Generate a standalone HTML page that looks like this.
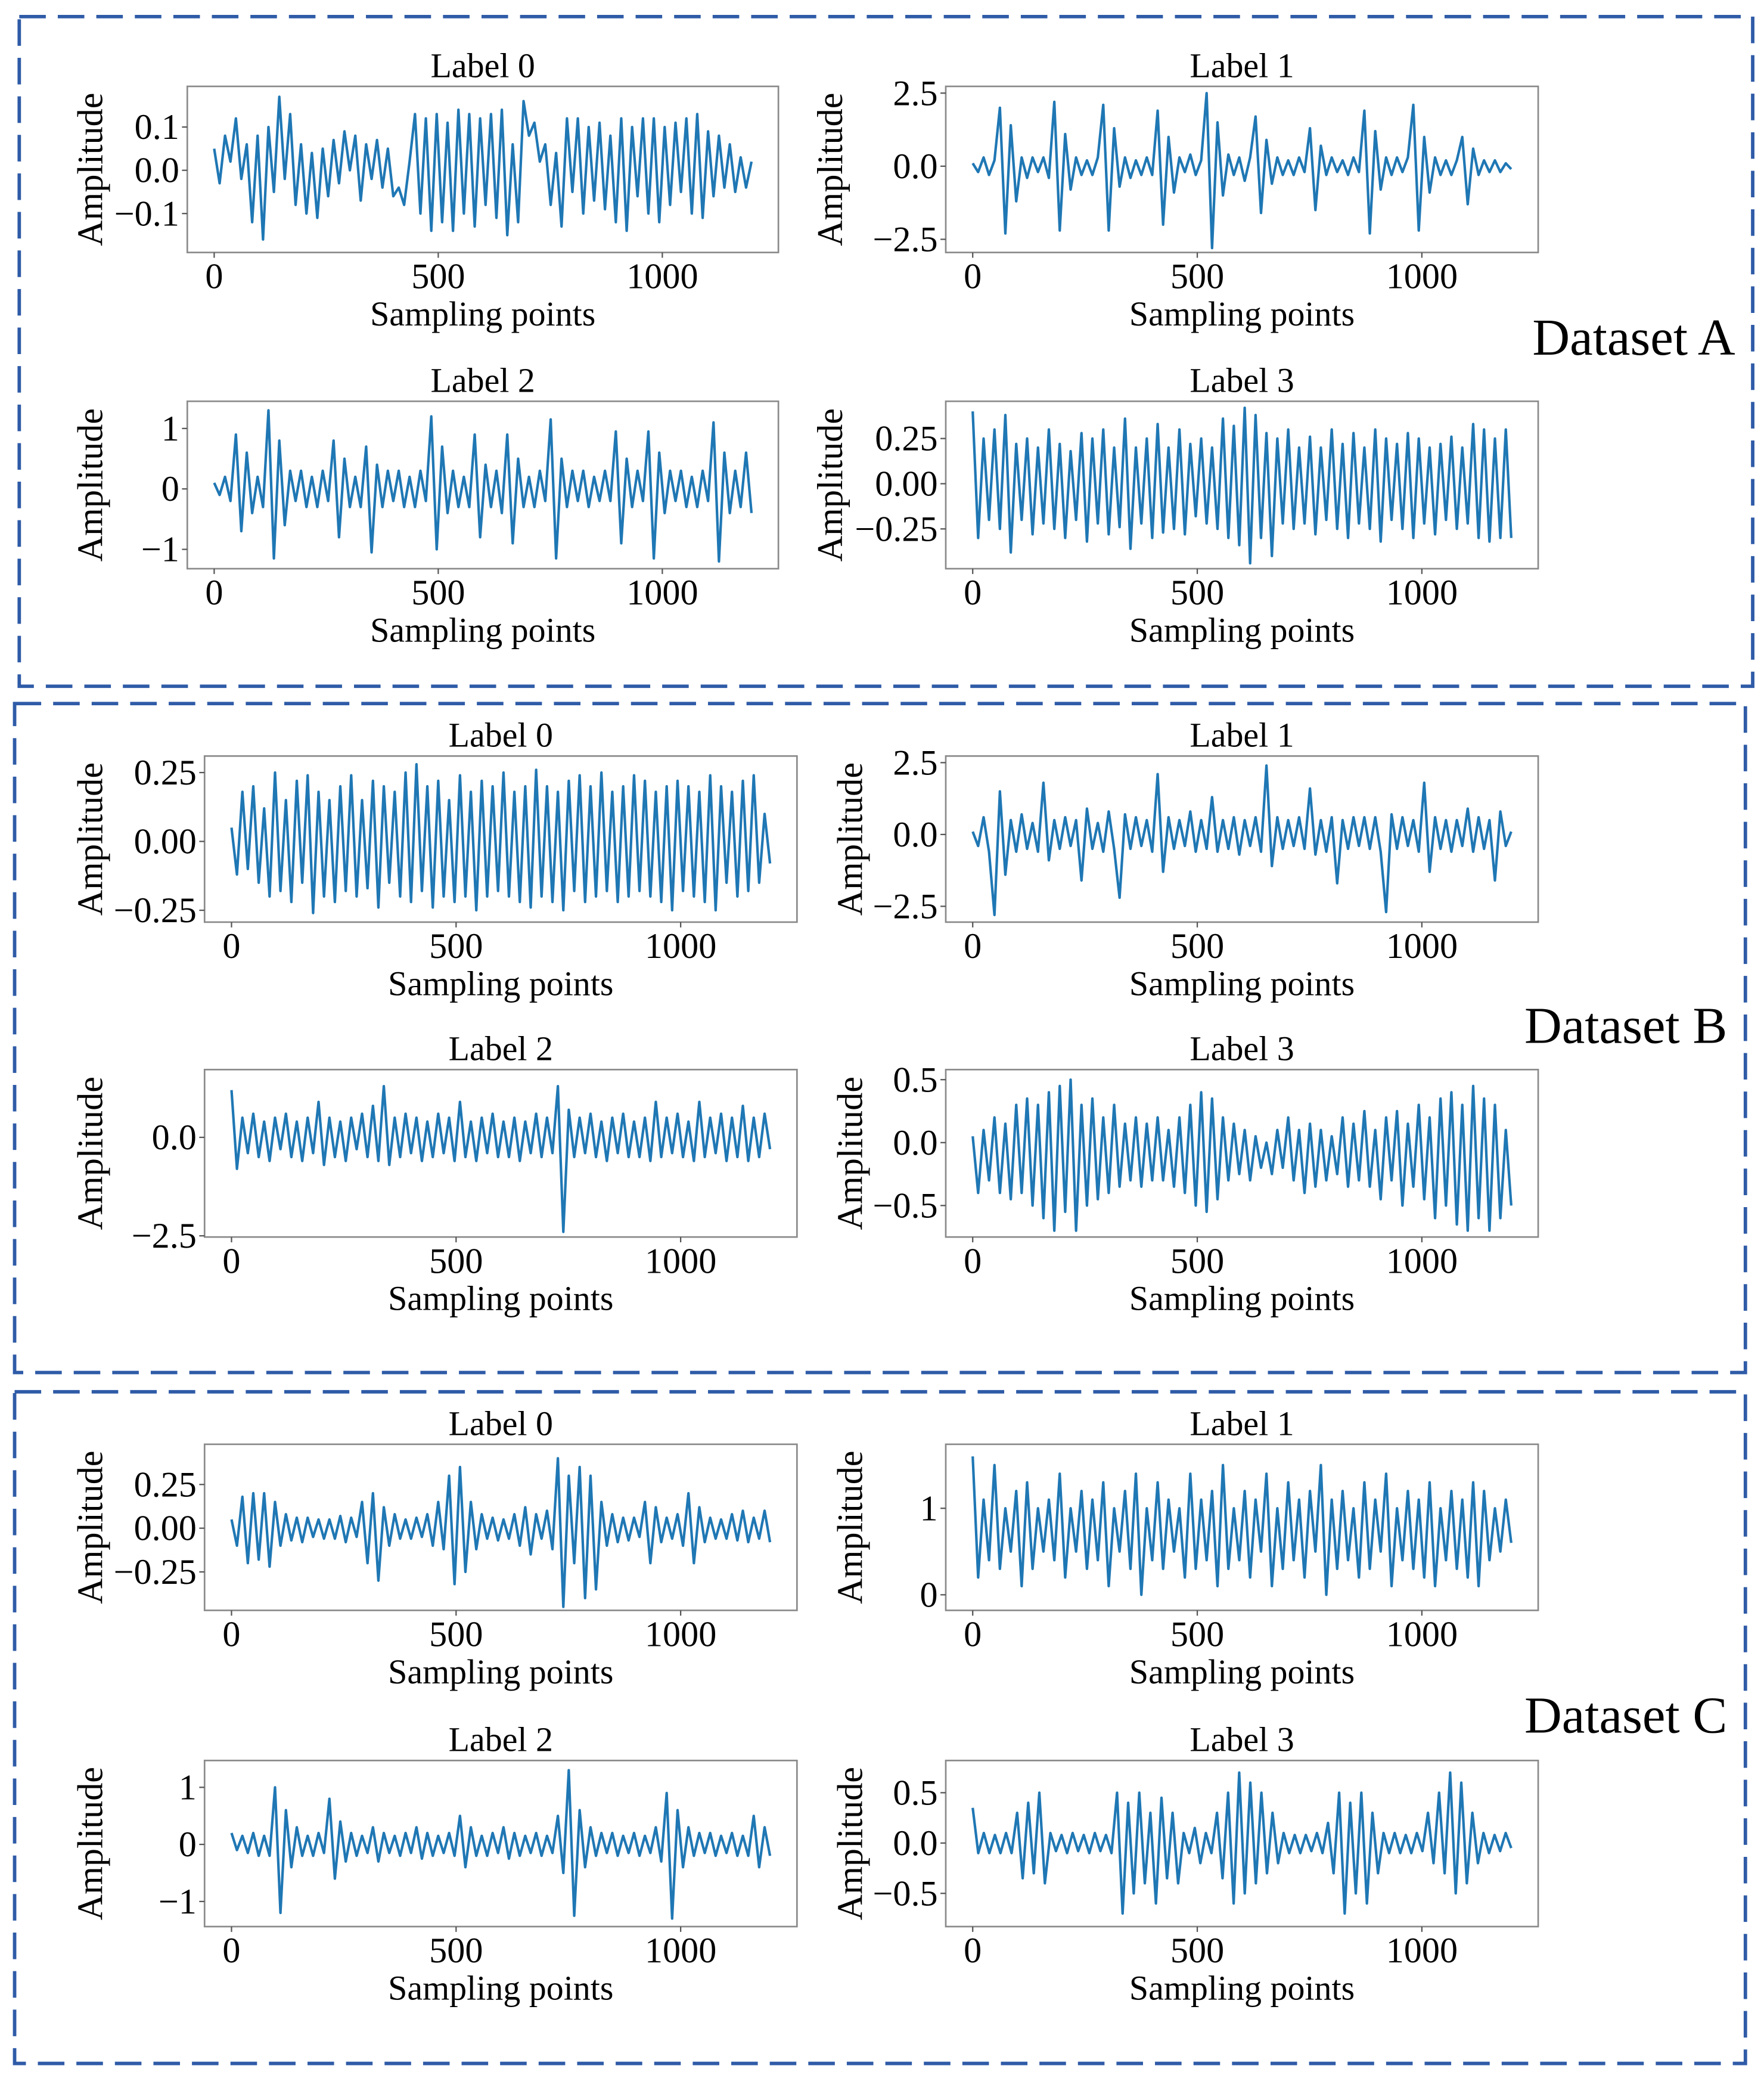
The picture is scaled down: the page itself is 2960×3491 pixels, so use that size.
<!DOCTYPE html>
<html><head><meta charset="utf-8"><title>Vibration signals by dataset and label</title>
<style>
html,body{margin:0;padding:0;background:#fff;}
svg{display:block;}
text{font-family:"Liberation Serif","DejaVu Serif",serif;fill:#000;}
</style></head>
<body>
<svg id="fig" xmlns="http://www.w3.org/2000/svg" width="2960" height="3491" viewBox="0 0 1328 1566.2">
<rect x="0" y="0" width="1328" height="1566.2" fill="#fff"/>
<rect x="14.5" y="12.5" width="1305" height="504" fill="none" stroke="#2f5ba7" stroke-width="2.6" stroke-dasharray="20,9"/>
<rect x="11" y="529.5" width="1303" height="503.5" fill="none" stroke="#2f5ba7" stroke-width="2.6" stroke-dasharray="20,9"/>
<rect x="11" y="1047.5" width="1303" height="505.5" fill="none" stroke="#2f5ba7" stroke-width="2.6" stroke-dasharray="20,9"/>
<text x="1230" y="267" font-size="39" text-anchor="middle">Dataset A</text>
<text x="1224" y="785" font-size="39" text-anchor="middle">Dataset B</text>
<text x="1224" y="1304" font-size="39" text-anchor="middle">Dataset C</text>
<g id="plots"></g>
</svg>
<script>
// ---- data: amplitude samples (evenly spaced over sampling points 0..1199) ----
const xTicks = [0, 500, 1000];
const xTickLabels = ["0", "500", "1000"];
const titles = ["Label 0", "Label 1", "Label 2", "Label 3"];

const sigA0 = [0.05,-0.03,0.08,0.02,0.12,-0.02,0.06,-0.12,0.08,-0.16,0.1,-0.05,0.17,-0.02,0.13,-0.08,0.06,-0.1,0.04,-0.11,0.05,-0.06,0.07,-0.03,0.09,0.0,0.08,-0.07,0.06,-0.02,0.07,-0.04,0.05,-0.06,-0.04,-0.08,0.02,0.13,-0.1,0.12,-0.14,0.13,-0.12,0.11,-0.14,0.14,-0.1,0.13,-0.13,0.12,-0.08,0.13,-0.11,0.14,-0.15,0.06,-0.12,0.16,0.08,0.11,0.02,0.06,-0.08,0.04,-0.13,0.12,-0.05,0.12,-0.1,0.1,-0.07,0.11,-0.09,0.08,-0.12,0.12,-0.14,0.1,-0.06,0.12,-0.1,0.12,-0.12,0.1,-0.08,0.11,-0.05,0.12,-0.1,0.13,-0.11,0.09,-0.06,0.08,-0.04,0.06,-0.05,0.03,-0.04,0.02];
const sigA1 = [0.1,-0.2,0.3,-0.3,0.2,2.0,-2.3,1.4,-1.2,0.3,-0.4,0.3,-0.2,0.3,-0.4,2.2,-2.2,1.1,-0.8,0.3,-0.3,0.2,-0.3,0.3,2.1,-2.2,1.3,-0.7,0.3,-0.4,0.2,-0.3,0.3,-0.3,1.9,-2.0,1.0,-0.9,0.3,-0.2,0.4,-0.3,0.2,2.5,-2.8,1.5,-1.0,0.4,-0.3,0.3,-0.5,0.3,1.7,-1.6,0.9,-0.6,0.3,-0.3,0.2,-0.3,0.3,-0.2,1.3,-1.5,0.7,-0.3,0.3,-0.2,0.2,-0.3,0.3,-0.2,1.9,-2.3,1.2,-0.8,0.3,-0.3,0.3,-0.2,0.3,2.1,-2.2,1.0,-0.9,0.3,-0.3,0.2,-0.3,0.2,1.0,-1.3,0.6,-0.3,0.2,-0.2,0.2,-0.2,0.1,-0.1];
const sigA2 = [0.1,-0.1,0.2,-0.2,0.9,-0.7,0.6,-0.4,0.2,-0.3,1.3,-1.15,0.8,-0.6,0.3,-0.2,0.3,-0.3,0.2,-0.3,0.3,-0.2,0.8,-0.8,0.5,-0.3,0.2,-0.3,0.7,-1.05,0.4,-0.3,0.3,-0.2,0.3,-0.3,0.2,-0.3,0.3,-0.2,1.2,-1.0,0.7,-0.4,0.3,-0.3,0.2,-0.3,0.9,-0.8,0.4,-0.3,0.3,-0.4,0.9,-0.9,0.5,-0.3,0.2,-0.3,0.3,-0.2,1.15,-1.15,0.5,-0.3,0.3,-0.2,0.3,-0.3,0.2,-0.2,0.3,-0.2,0.95,-0.9,0.5,-0.3,0.3,-0.2,0.95,-1.15,0.6,-0.4,0.3,-0.2,0.3,-0.3,0.2,-0.3,0.3,-0.2,1.1,-1.2,0.6,-0.4,0.3,-0.3,0.6,-0.4];
const sigA3 = [0.4,-0.3,0.25,-0.2,0.3,-0.25,0.38,-0.38,0.22,-0.2,0.25,-0.28,0.2,-0.22,0.3,-0.25,0.22,-0.3,0.18,-0.2,0.28,-0.32,0.25,-0.22,0.3,-0.28,0.2,-0.24,0.36,-0.36,0.2,-0.22,0.25,-0.3,0.33,-0.27,0.2,-0.25,0.3,-0.28,0.22,-0.18,0.25,-0.22,0.2,-0.25,0.36,-0.3,0.32,-0.34,0.42,-0.44,0.38,-0.3,0.28,-0.4,0.25,-0.22,0.3,-0.25,0.2,-0.22,0.26,-0.28,0.2,-0.2,0.3,-0.25,0.22,-0.3,0.28,-0.22,0.2,-0.25,0.3,-0.32,0.25,-0.2,0.22,-0.25,0.28,-0.3,0.25,-0.22,0.2,-0.28,0.22,-0.2,0.26,-0.25,0.2,-0.22,0.33,-0.3,0.3,-0.32,0.25,-0.3,0.3,-0.3];
const sigB0 = [0.05,-0.12,0.18,-0.1,0.2,-0.15,0.12,-0.2,0.25,-0.18,0.15,-0.22,0.22,-0.15,0.24,-0.26,0.18,-0.2,0.15,-0.22,0.2,-0.18,0.24,-0.2,0.15,-0.17,0.22,-0.24,0.2,-0.15,0.18,-0.2,0.25,-0.22,0.28,-0.18,0.2,-0.24,0.22,-0.2,0.15,-0.22,0.24,-0.2,0.18,-0.25,0.22,-0.2,0.2,-0.18,0.25,-0.2,0.18,-0.22,0.2,-0.24,0.26,-0.2,0.2,-0.22,0.18,-0.25,0.22,-0.18,0.24,-0.22,0.2,-0.2,0.25,-0.18,0.18,-0.22,0.2,-0.2,0.24,-0.18,0.22,-0.2,0.18,-0.22,0.2,-0.25,0.22,-0.18,0.2,-0.2,0.18,-0.22,0.24,-0.25,0.2,-0.15,0.18,-0.2,0.22,-0.18,0.24,-0.15,0.1,-0.08];
const sigB1 = [0.1,-0.4,0.6,-0.6,-2.8,1.5,-1.4,0.5,-0.6,0.7,-0.5,0.4,-0.6,1.8,-0.9,0.5,-0.5,0.6,-0.4,0.5,-1.6,0.9,-0.5,0.4,-0.6,0.8,-0.5,-2.2,0.7,-0.5,0.6,-0.4,0.5,-0.6,2.1,-1.3,0.6,-0.5,0.5,-0.4,0.8,-0.6,0.5,-0.5,1.3,-0.6,0.5,-0.5,0.6,-0.7,0.5,-0.4,0.6,-0.6,2.4,-1.1,0.6,-0.5,0.5,-0.4,0.6,-0.5,1.6,-0.7,0.5,-0.6,0.6,-1.7,0.5,-0.5,0.6,-0.4,0.6,-0.5,0.6,-0.6,-2.7,0.7,-0.5,0.6,-0.4,0.5,-0.6,1.8,-1.3,0.6,-0.5,0.5,-0.6,0.5,-0.4,0.9,-0.6,0.6,-0.5,0.5,-1.6,0.8,-0.4,0.1];
const sigB2 = [1.2,-0.8,0.5,-0.4,0.6,-0.5,0.4,-0.6,0.5,-0.3,0.6,-0.5,0.4,-0.6,0.5,-0.4,0.9,-0.7,0.5,-0.5,0.4,-0.6,0.5,-0.3,0.6,-0.5,0.8,-0.6,1.3,-0.7,0.5,-0.5,0.6,-0.4,0.5,-0.6,0.4,-0.5,0.6,-0.4,0.5,-0.6,0.9,-0.5,0.4,-0.6,0.5,-0.4,0.6,-0.5,0.4,-0.5,0.5,-0.6,0.4,-0.4,0.6,-0.5,0.5,-0.4,1.3,-2.4,0.7,-0.5,0.5,-0.4,0.6,-0.5,0.4,-0.6,0.5,-0.4,0.6,-0.5,0.4,-0.5,0.5,-0.6,0.9,-0.5,0.5,-0.4,0.6,-0.5,0.4,-0.6,0.9,-0.5,0.5,-0.4,0.6,-0.6,0.5,-0.5,0.8,-0.6,0.5,-0.5,0.6,-0.3];
const sigB3 = [0.05,-0.4,0.1,-0.3,0.2,-0.4,0.15,-0.45,0.3,-0.4,0.35,-0.5,0.3,-0.6,0.4,-0.7,0.45,-0.55,0.5,-0.7,0.3,-0.5,0.35,-0.45,0.2,-0.4,0.3,-0.35,0.15,-0.3,0.2,-0.35,0.15,-0.3,0.2,-0.3,0.1,-0.35,0.2,-0.4,0.3,-0.5,0.4,-0.55,0.35,-0.45,0.2,-0.3,0.15,-0.25,0.1,-0.3,0.05,-0.2,0.0,-0.25,0.1,-0.2,0.2,-0.3,0.1,-0.4,0.15,-0.35,0.1,-0.3,0.05,-0.25,0.2,-0.35,0.15,-0.3,0.25,-0.35,0.1,-0.45,0.2,-0.3,0.25,-0.5,0.15,-0.35,0.3,-0.45,0.2,-0.6,0.35,-0.5,0.4,-0.65,0.3,-0.7,0.45,-0.6,0.35,-0.7,0.3,-0.6,0.1,-0.5];
const sigC0 = [0.05,-0.1,0.18,-0.2,0.2,-0.18,0.2,-0.22,0.15,-0.1,0.08,-0.07,0.06,-0.08,0.06,-0.05,0.05,-0.06,0.05,-0.06,0.07,-0.08,0.06,-0.05,0.15,-0.2,0.2,-0.3,0.12,-0.1,0.08,-0.06,0.05,-0.06,0.06,-0.05,0.08,-0.1,0.15,-0.12,0.3,-0.32,0.35,-0.25,0.15,-0.12,0.08,-0.06,0.06,-0.07,0.05,-0.06,0.08,-0.1,0.12,-0.15,0.08,-0.06,0.1,-0.12,0.4,-0.45,0.3,-0.2,0.35,-0.4,0.3,-0.35,0.15,-0.1,0.08,-0.08,0.06,-0.07,0.06,-0.05,0.15,-0.2,0.12,-0.08,0.06,-0.06,0.08,-0.1,0.2,-0.2,0.12,-0.08,0.06,-0.06,0.05,-0.06,0.08,-0.07,0.1,-0.08,0.06,-0.06,0.1,-0.08];
const sigC1 = [1.6,0.2,1.1,0.4,1.5,0.3,1.0,0.5,1.2,0.1,1.3,0.3,1.0,0.5,1.1,0.4,1.4,0.2,1.0,0.5,1.2,0.3,1.1,0.4,1.3,0.1,1.0,0.5,1.2,0.3,1.4,0.0,1.0,0.4,1.3,0.3,1.1,0.5,1.0,0.2,1.4,0.3,1.1,0.4,1.2,0.1,1.5,0.3,1.0,0.4,1.2,0.2,1.1,0.5,1.4,0.1,1.0,0.3,1.3,0.4,1.1,0.2,1.2,0.5,1.5,0.0,1.1,0.3,1.2,0.4,1.0,0.2,1.3,0.3,1.1,0.5,1.4,0.1,1.0,0.4,1.2,0.3,1.1,0.2,1.3,0.1,1.0,0.4,1.2,0.3,1.1,0.2,1.3,0.1,1.2,0.4,1.0,0.5,1.1,0.6];
const sigC2 = [0.2,-0.1,0.15,-0.15,0.2,-0.2,0.15,-0.2,1.0,-1.2,0.6,-0.4,0.3,-0.2,0.15,-0.2,0.2,-0.15,0.8,-0.6,0.4,-0.3,0.2,-0.2,0.15,-0.15,0.3,-0.3,0.2,-0.15,0.15,-0.2,0.2,-0.15,0.3,-0.25,0.2,-0.2,0.15,-0.15,0.2,-0.2,0.5,-0.4,0.3,-0.2,0.15,-0.2,0.2,-0.15,0.3,-0.25,0.2,-0.2,0.15,-0.15,0.2,-0.2,0.15,-0.15,0.5,-0.5,1.3,-1.25,0.6,-0.4,0.3,-0.2,0.2,-0.15,0.2,-0.2,0.15,-0.15,0.2,-0.2,0.15,-0.15,0.3,-0.3,0.9,-1.3,0.6,-0.4,0.3,-0.2,0.2,-0.15,0.2,-0.2,0.15,-0.15,0.2,-0.2,0.15,-0.2,0.5,-0.4,0.3,-0.2];
const sigC3 = [0.35,-0.1,0.1,-0.1,0.08,-0.1,0.1,-0.1,0.3,-0.35,0.4,-0.3,0.5,-0.4,0.1,-0.08,0.08,-0.1,0.1,-0.08,0.08,-0.1,0.1,-0.08,0.08,-0.1,0.5,-0.7,0.4,-0.5,0.5,-0.4,0.3,-0.6,0.45,-0.35,0.3,-0.4,0.1,-0.1,0.15,-0.2,0.1,-0.1,0.3,-0.35,0.5,-0.6,0.7,-0.5,0.6,-0.4,0.5,-0.3,0.3,-0.2,0.1,-0.1,0.08,-0.1,0.08,-0.08,0.1,-0.1,0.2,-0.3,0.5,-0.7,0.4,-0.5,0.5,-0.6,0.3,-0.3,0.1,-0.1,0.1,-0.1,0.08,-0.1,0.1,-0.08,0.3,-0.2,0.5,-0.3,0.7,-0.5,0.6,-0.4,0.3,-0.2,0.1,-0.1,0.08,-0.08,0.1,-0.05];

const yTicksA0 = [0.1, 0.0, -0.1], yLabA0 = ["0.1","0.0","\u22120.1"];
const yTicksA1 = [2.5, 0.0, -2.5], yLabA1 = ["2.5","0.0","\u22122.5"];
const yTicksA2 = [1, 0, -1], yLabA2 = ["1","0","\u22121"];
const yTicksA3 = [0.25, 0.0, -0.25], yLabA3 = ["0.25","0.00","\u22120.25"];
const yTicksB0 = [0.25, 0.0, -0.25], yLabB0 = ["0.25","0.00","\u22120.25"];
const yTicksB1 = [2.5, 0.0, -2.5], yLabB1 = ["2.5","0.0","\u22122.5"];
const yTicksB2 = [0.0, -2.5], yLabB2 = ["0.0","\u22122.5"];
const yTicksB3 = [0.5, 0.0, -0.5], yLabB3 = ["0.5","0.0","\u22120.5"];
const yTicksC0 = [0.25, 0.0, -0.25], yLabC0 = ["0.25","0.00","\u22120.25"];
const yTicksC1 = [1, 0], yLabC1 = ["1","0"];
const yTicksC2 = [1, 0, -1], yLabC2 = ["1","0","\u22121"];
const yTicksC3 = [0.5, 0.0, -0.5], yLabC3 = ["0.5","0.0","\u22120.5"];

// layout (figure units)
const panels = [
 {id:"a-label-0", box:[141,65,586,190], ylim:[-0.19,0.194], sig:sigA0, yt:yTicksA0, yl:yLabA0, title:titles[0], ax:68},
 {id:"a-label-1", box:[712,65,1158,190], ylim:[-2.95,2.73], sig:sigA1, yt:yTicksA1, yl:yLabA1, title:titles[1], ax:625},
 {id:"a-label-2", box:[141,302,586,428], ylim:[-1.32,1.45], sig:sigA2, yt:yTicksA2, yl:yLabA2, title:titles[2], ax:68},
 {id:"a-label-3", box:[712,302,1158,428], ylim:[-0.47,0.456], sig:sigA3, yt:yTicksA3, yl:yLabA3, title:titles[3], ax:625},
 {id:"b-label-0", box:[154,569,600,694], ylim:[-0.293,0.31], sig:sigB0, yt:yTicksB0, yl:yLabB0, title:titles[0], ax:68},
 {id:"b-label-1", box:[712,569,1158,694], ylim:[-3.05,2.73], sig:sigB1, yt:yTicksB1, yl:yLabB1, title:titles[1], ax:640},
 {id:"b-label-2", box:[154,805,600,931], ylim:[-2.53,1.72], sig:sigB2, yt:yTicksB2, yl:yLabB2, title:titles[2], ax:68},
 {id:"b-label-3", box:[712,805,1158,931], ylim:[-0.75,0.58], sig:sigB3, yt:yTicksB3, yl:yLabB3, title:titles[3], ax:640},
 {id:"c-label-0", box:[154,1087,600,1212], ylim:[-0.47,0.48], sig:sigC0, yt:yTicksC0, yl:yLabC0, title:titles[0], ax:68},
 {id:"c-label-1", box:[712,1087,1158,1212], ylim:[-0.18,1.74], sig:sigC1, yt:yTicksC1, yl:yLabC1, title:titles[1], ax:640},
 {id:"c-label-2", box:[154,1325,600,1450], ylim:[-1.44,1.47], sig:sigC2, yt:yTicksC2, yl:yLabC2, title:titles[2], ax:68},
 {id:"c-label-3", box:[712,1325,1158,1450], ylim:[-0.83,0.82], sig:sigC3, yt:yTicksC3, yl:yLabC3, title:titles[3], ax:640}
];
const NS = "http://www.w3.org/2000/svg";
const root = document.getElementById("plots");
function mk(tag, attrs, parent){const e=document.createElementNS(NS,tag);for(const k in attrs)e.setAttribute(k,attrs[k]);parent.appendChild(e);return e;}

panels.forEach(p=>{
  const [x0,y0,x1,y1]=p.box;
  const xmin=-60, xmax=1259;
  const sx=v=>x0+(v-xmin)/(xmax-xmin)*(x1-x0);
  const sy=v=>y1-(v-p.ylim[0])/(p.ylim[1]-p.ylim[0])*(y1-y0);
  const g=mk("g",{},root);
  
  
  const t=mk("text",{x:(x0+x1)/2,y:y0-7,"font-size":26,"text-anchor":"middle"},g);
  t.textContent=p.title;
  
  
  const n=p.sig.length;
  let d="";
  p.sig.forEach((v,i)=>{const s=i*1199/(n-1);d+=(i?"L":"M")+sx(s).toFixed(2)+","+sy(v).toFixed(2);});
  const line=mk("path",{d:d,fill:"none",stroke:"#1f77b4","stroke-width":1.9,"stroke-linejoin":"round"},g);
  
  
  const fr=mk("rect",{x:x0,y:y0,width:x1-x0,height:y1-y0,fill:"none",stroke:"#8a8a8a","stroke-width":1.2},g);
  
  
  xTicks.forEach((v,i)=>{
    mk("line",{x1:sx(v),x2:sx(v),y1:y1,y2:y1+4,stroke:"#555","stroke-width":1},g);
    const tl=mk("text",{x:sx(v),y:y1+27,"font-size":27,"text-anchor":"middle"},g);
    tl.textContent=xTickLabels[i];
    
    
  });
  p.yt.forEach((v,i)=>{
    mk("line",{x1:x0-4,x2:x0,y1:sy(v),y2:sy(v),stroke:"#555","stroke-width":1},g);
    const tl=mk("text",{x:x0-6,y:sy(v)+9,"font-size":27,"text-anchor":"end"},g);
    tl.textContent=p.yl[i];
    
    
  });
  const xl=mk("text",{x:(x0+x1)/2,y:y1+55,"font-size":26,"text-anchor":"middle"},g);
  xl.textContent="Sampling points";
  
  
  const yc=(y0+y1)/2;
  const yl=mk("text",{x:p.ax+9,y:yc,"font-size":27,"text-anchor":"middle",transform:"rotate(-90 "+(p.ax+9)+" "+yc+")"},g);
  yl.textContent="Amplitude";
  
  
});
</script>
</body></html>
